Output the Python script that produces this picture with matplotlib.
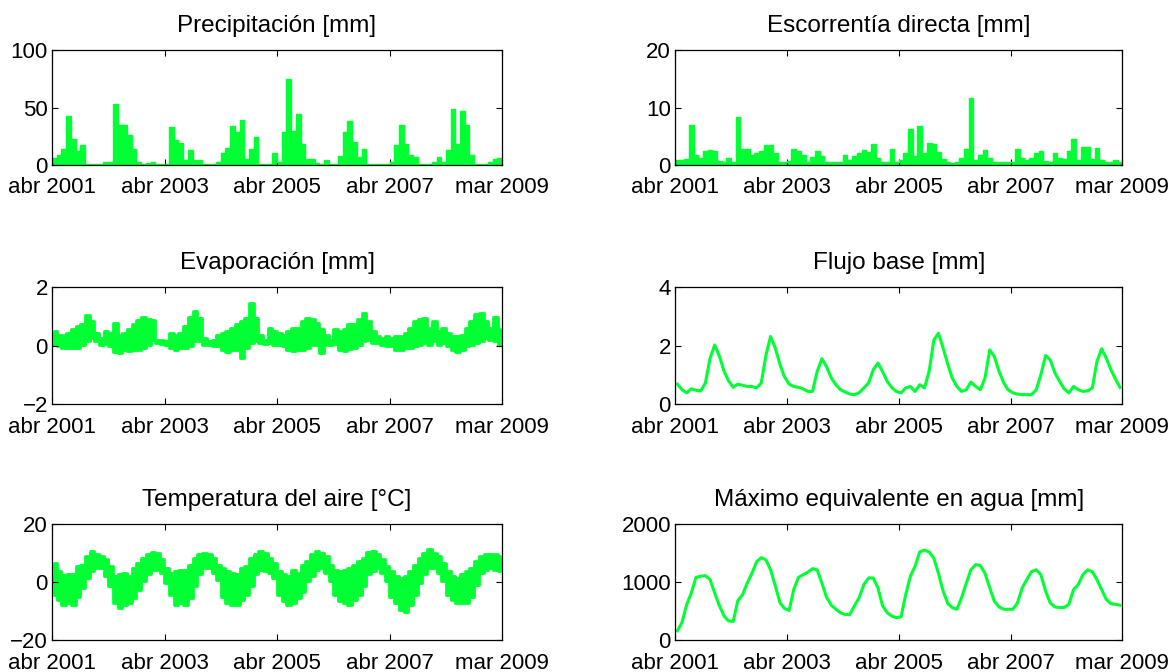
import numpy as np
import pandas as pd
import matplotlib
matplotlib.use("Agg")
import matplotlib.pyplot as plt
import matplotlib.dates as mdates

# Monthly series, April 2001 .. March 2009 (96 months)
months = pd.date_range("2001-04-01", periods=96, freq="MS")

precip = [6, 9, 14, 43, 23, 12, 17, 1, 1, 1, 1, 3,
          3, 53, 35, 35, 26, 14, 3, 1, 2, 3, 1, 1,
          1, 33, 22, 19, 4, 13, 4, 4, 1, 1, 1, 3,
          10, 15, 34, 29, 39, 5, 14, 24, 1, 1, 1, 10,
          3, 29, 75, 30, 44, 18, 5, 5, 2, 1, 4, 1,
          1, 8, 29, 38, 20, 7, 14, 1, 1, 1, 1, 1,
          3, 17, 35, 18, 9, 7, 1, 1, 1, 3, 7, 3,
          13, 49, 18, 47, 35, 9, 1, 1, 1, 3, 5, 6]

runoff = [0.8, 0.9, 1.0, 7.0, 1.8, 1.2, 2.4, 2.6, 2.5, 0.7, 0.5, 1.2,
          0.6, 8.3, 2.7, 2.7, 1.8, 2.0, 2.5, 3.5, 3.5, 2.0, 0.6, 0.6,
          0.7, 2.7, 2.5, 1.7, 0.6, 1.4, 2.4, 1.6, 0.6, 0.6, 0.6, 0.6,
          1.7, 0.8, 1.5, 2.1, 2.6, 2.2, 3.6, 1.2, 0.6, 0.6, 2.7, 0.6,
          0.8, 2.0, 6.2, 1.5, 6.7, 2.0, 3.8, 3.7, 2.3, 1.0, 0.5, 0.4,
          0.6, 1.2, 2.7, 11.7, 0.8, 1.7, 2.6, 1.2, 0.6, 0.6, 0.6, 0.6,
          0.6, 2.7, 1.2, 0.8, 1.2, 2.0, 2.4, 0.7, 0.6, 2.1, 1.2, 1.0,
          2.5, 4.5, 0.8, 3.2, 3.2, 1.0, 3.0, 0.8, 0.6, 0.6, 0.8, 0.6]

evap_high = [0.49, 0.37, 0.35, 0.43, 0.55, 0.66, 0.72, 1.05, 0.84, 0.43, 0.26, 0.49,
             0.43, 0.78, 0.35, 0.43, 0.55, 0.72, 0.86, 0.98, 0.90, 0.86, 0.20, 0.20,
             0.14, 0.43, 0.37, 0.43, 0.66, 0.98, 1.19, 0.95, 0.26, 0.14, 0.20, 0.37,
             0.43, 0.49, 0.60, 0.72, 0.84, 0.95, 1.44, 0.95, 0.37, 0.20, 0.60, 0.49,
             0.43, 0.37, 0.49, 0.60, 0.60, 0.84, 0.95, 0.90, 0.78, 0.55, 0.37, 0.20,
             0.55, 0.49, 0.55, 0.72, 0.72, 0.90, 1.13, 0.84, 0.49, 0.31, 0.26, 0.31,
             0.26, 0.31, 0.31, 0.43, 0.60, 0.84, 0.90, 0.95, 0.60, 0.84, 0.49, 0.60,
             0.43, 0.31, 0.31, 0.37, 0.60, 0.84, 1.07, 1.13, 0.84, 0.60, 0.98, 0.55]

evap_low = [0.02, -0.03, -0.07, -0.07, -0.09, -0.07, 0.02, 0.14, 0.26, 0.14, 0.02, 0.05,
            -0.03, -0.21, -0.27, -0.15, -0.19, -0.15, -0.15, -0.09, 0.02, 0.20, 0.08, 0.05,
            0.02, -0.09, -0.15, -0.09, -0.09, -0.03, 0.14, 0.14, 0.02, 0.02, -0.03, -0.03,
            -0.15, -0.23, -0.15, -0.15, -0.42, -0.09, 0.08, 0.14, 0.08, 0.05, 0.08, 0.02,
            0.02, -0.03, -0.15, -0.19, -0.15, -0.15, -0.09, 0.02, 0.02, -0.27, 0.02, 0.02,
            0.05, -0.15, -0.19, -0.12, -0.09, 0.02, 0.14, 0.20, 0.08, 0.08, 0.02, -0.03,
            -0.03, -0.15, -0.15, -0.09, -0.09, -0.03, 0.02, 0.08, 0.02, 0.14, 0.02, 0.08,
            -0.03, -0.15, -0.23, -0.15, -0.03, 0.02, 0.08, 0.14, 0.26, 0.20, 0.14, 0.02]

baseflow = [0.68, 0.49, 0.38, 0.52, 0.47, 0.45, 0.72, 1.57, 2.02, 1.63, 1.11, 0.80,
            0.57, 0.68, 0.64, 0.60, 0.60, 0.55, 0.72, 1.68, 2.31, 1.91, 1.34, 0.94,
            0.68, 0.60, 0.57, 0.52, 0.43, 0.43, 1.11, 1.55, 1.28, 0.89, 0.66, 0.49,
            0.41, 0.34, 0.32, 0.38, 0.55, 0.72, 1.17, 1.40, 1.11, 0.77, 0.55, 0.43,
            0.38, 0.55, 0.60, 0.43, 0.66, 0.55, 1.11, 2.19, 2.42, 1.91, 1.34, 0.89,
            0.60, 0.43, 0.49, 0.75, 0.60, 0.49, 0.89, 1.85, 1.63, 1.11, 0.72, 0.49,
            0.38, 0.34, 0.32, 0.32, 0.32, 0.49, 1.00, 1.66, 1.51, 1.06, 0.77, 0.52,
            0.38, 0.60, 0.49, 0.43, 0.45, 0.55, 1.45, 1.89, 1.57, 1.17, 0.83, 0.57]

temp_high = [6.6, 3.7, 2.3, 2.6, 2.8, 5.5, 6.0, 9.0, 10.7, 9.8, 9.0, 7.8,
             5.5, 2.0, 2.6, 3.1, 2.0, 4.9, 6.6, 8.4, 9.5, 10.5, 10.1, 7.8,
             4.9, 3.1, 3.7, 4.3, 4.3, 6.0, 8.4, 9.8, 10.1, 9.5, 8.4, 6.0,
             4.9, 3.7, 3.1, 2.6, 4.9, 5.5, 8.4, 9.5, 10.7, 10.1, 8.4, 6.6,
             3.7, 2.6, 2.0, 4.3, 3.1, 6.0, 7.2, 9.5, 10.7, 10.1, 9.0, 6.0,
             4.3, 3.7, 4.3, 4.9, 6.0, 7.2, 8.4, 10.5, 10.7, 9.5, 7.8, 5.5,
             3.7, 2.0, 1.4, 2.0, 3.7, 6.0, 8.4, 10.1, 11.3, 10.1, 9.0, 6.6,
             3.7, 2.0, 1.4, 2.6, 3.7, 4.9, 7.2, 9.0, 9.8, 9.8, 9.5, 9.0]

temp_low = [-4.4, -6.2, -7.9, -7.3, -7.9, -5.0, -2.1, 1.4, 3.7, 4.9, 4.9, 2.0,
            -1.5, -7.3, -9.1, -7.9, -7.3, -5.6, -2.7, 0.2, 2.6, 4.3, 4.3, 3.1,
            -0.3, -4.4, -7.9, -7.3, -7.9, -5.6, -1.5, 2.6, 4.9, 4.9, 3.1, 0.8,
            -5.0, -7.3, -7.9, -7.9, -6.2, -4.4, -1.5, 2.6, 4.3, 3.7, 3.1, 1.4,
            -4.4, -6.7, -7.9, -7.3, -5.6, -3.3, 0.2, 2.0, 4.3, 4.9, 3.1, 0.2,
            -4.4, -6.7, -7.3, -7.9, -6.2, -4.4, -1.5, 2.6, 3.7, 4.9, 3.1, 0.2,
            -5.0, -7.3, -9.7, -10.3, -7.9, -4.4, -0.3, 2.6, 4.9, 4.9, 3.1, 0.2,
            -4.4, -6.2, -7.3, -7.3, -7.3, -5.0, -0.9, 3.1, 4.3, 4.9, 4.3, 3.7]

swe = [160, 300, 610, 810, 1080, 1100, 1110, 1040, 810, 590, 410, 330,
       320, 680, 780, 980, 1150, 1350, 1420, 1380, 1210, 930, 640, 545,
       510, 870, 1080, 1125, 1170, 1230, 1210, 980, 740, 600, 530, 470,
       440, 440, 590, 730, 955, 1070, 1070, 900, 590, 470, 410, 385,
       400, 780, 1100, 1270, 1520, 1550, 1520, 1410, 1150, 840, 625, 560,
       530, 730, 980, 1210, 1300, 1285, 1150, 900, 670, 570, 530, 530,
       530, 640, 900, 1040, 1180, 1210, 1125, 840, 640, 570, 560, 560,
       615, 870, 955, 1125, 1210, 1180, 1040, 870, 700, 625, 615, 600]

xtick_labels = ["abr 2001", "abr 2003", "abr 2005", "abr 2007", "mar 2009"]

GREEN = "#00ff33"

plt.rcParams["font.family"] = ["Liberation Sans", "DejaVu Sans"]
plt.rcParams["font.size"] = 16

t_start = mdates.date2num(months[0].to_pydatetime())
t_end = mdates.date2num(pd.Timestamp("2009-03-31").to_pydatetime())
t_edges = mdates.date2num(list(months.to_pydatetime()) + [pd.Timestamp("2009-04-01").to_pydatetime()])
t_mid = mdates.date2num((months + pd.Timedelta(days=15)).to_pydatetime())

fig = plt.figure(figsize=(11.74, 6.72), dpi=100)

col_x = [0.0443, 0.575]
col_w = [0.3833, 0.381]
row_y = [0.7545, 0.3988, 0.0476]
row_h = [0.171, 0.174, 0.1726]


def make_axes(row, col, title, ylim, yticks):
    ax = fig.add_axes([col_x[col], row_y[row], col_w[col], row_h[row]])
    ax.set_xlim(t_start, t_end)
    ax.set_ylim(*ylim)
    ax.set_xticks(np.linspace(t_start, t_end, 5))
    ax.set_xticklabels(xtick_labels)
    ax.set_yticks(yticks)
    ax.tick_params(direction="in", top=True, right=True, length=4, width=0.8,
                   labelsize=16)
    ax.tick_params(axis="x", pad=9)
    ax.tick_params(axis="y", pad=3)
    for s in ax.spines.values():
        s.set_linewidth(0.9)
    ax.set_title(title, fontsize=17.5, pad=13)
    return ax


def step_vals(v):
    v = list(v)
    return np.array(v + [v[-1]])


# Precipitación
ax = make_axes(0, 0, "Precipitación [mm]", (0, 100), [0, 50, 100])
ax.fill_between(t_edges, 0, step_vals(precip), step="post", color=GREEN, lw=0)
ax.step(t_edges, step_vals(precip), where="post", color=GREEN, lw=1)

# Escorrentía directa
ax = make_axes(0, 1, "Escorrentía directa [mm]", (0, 20), [0, 10, 20])
ax.fill_between(t_edges, 0, step_vals(runoff), step="post", color=GREEN, lw=0)
ax.step(t_edges, step_vals(runoff), where="post", color=GREEN, lw=1)

# Evaporación
ax = make_axes(1, 0, "Evaporación [mm]", (-2, 2), [-2, 0, 2])
ax.fill_between(t_mid, evap_low, evap_high, step="mid", color=GREEN, lw=2, edgecolor=GREEN)

# Flujo base
ax = make_axes(1, 1, "Flujo base [mm]", (0, 4), [0, 2, 4])
ax.plot(t_mid, baseflow, color=GREEN, lw=2.2)

# Temperatura del aire
ax = make_axes(2, 0, "Temperatura del aire [°C]", (-20, 20), [-20, 0, 20])
ax.fill_between(t_mid, temp_low, temp_high, step="mid", color=GREEN, lw=2, edgecolor=GREEN)

# Máximo equivalente en agua
ax = make_axes(2, 1, "Máximo equivalente en agua [mm]", (0, 2000), [0, 1000, 2000])
ax.plot(t_mid, swe, color=GREEN, lw=2.2)

fig.savefig("out.png", dpi=100)
